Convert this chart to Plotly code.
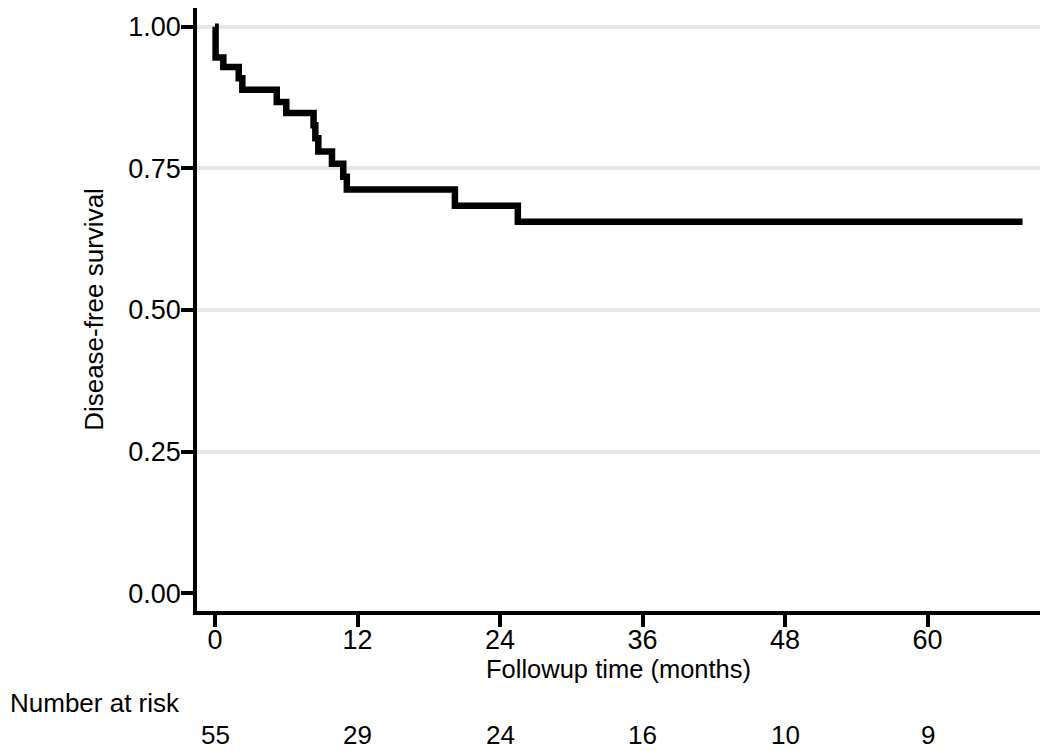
import plotly.graph_objects as go

# Kaplan-Meier step data
time_months = [0, 0.05, 0.7, 2.0, 2.3, 5.2, 6.0, 8.3, 8.45, 8.7, 9.85, 10.8, 11.1, 20.2, 25.5, 68.0]
survival = [1.0, 0.946, 0.929, 0.909, 0.889, 0.867, 0.848, 0.826, 0.803, 0.780, 0.758, 0.735, 0.7125, 0.684, 0.6556, 0.6556]

x_ticks = [0, 12, 24, 36, 48, 60]
y_ticks = [0.0, 0.25, 0.5, 0.75, 1.0]
y_tick_labels = ["0.00", "0.25", "0.50", "0.75", "1.00"]
at_risk_times = [0, 12, 24, 36, 48, 60]
at_risk_counts = [55, 29, 24, 16, 10, 9]

FONT = "Liberation Sans, Arial, Helvetica, sans-serif"
FS = 26

fig = go.Figure()
fig.add_trace(go.Scatter(
    x=time_months, y=survival, mode="lines",
    line=dict(shape="hv", color="black", width=6.5),
    showlegend=False, hoverinfo="skip",
))

# number-at-risk table
fig.add_annotation(text="Number at risk", xref="paper", yref="paper",
                   x=-0.2242, y=-0.153, xanchor="left", yanchor="middle",
                   showarrow=False, font=dict(family=FONT, size=FS, color="black"))
for t, n in zip(at_risk_times, at_risk_counts):
    fig.add_annotation(text=str(n), xref="x", yref="paper", x=t, y=-0.206,
                       xanchor="center", yanchor="middle", showarrow=False,
                       font=dict(family=FONT, size=FS, color="black"))

fig.update_layout(
    width=1042, height=743, autosize=False,
    margin=dict(l=189, r=10, t=0, b=140),
    paper_bgcolor="white", plot_bgcolor="white",
    font=dict(family=FONT, size=FS, color="black"),
    xaxis=dict(
        range=[-1.516, 69.47], tickmode="array", tickvals=x_ticks,
        ticks="outside", ticklen=12, tickwidth=3.5, tickcolor="black",
        showline=True, linecolor="black", linewidth=3.5,
        showgrid=False, zeroline=False, automargin=False,
        ticklabelstandoff=-10,
        title=dict(text="Followup time (months)", standoff=2,
                   font=dict(family=FONT, size=25.5, color="black")),
        tickfont=dict(family=FONT, size=27, color="black"),
    ),
    yaxis=dict(
        range=[-0.0316, 1.0332], tickmode="array", tickvals=y_ticks,
        ticktext=y_tick_labels,
        ticks="outside", ticklen=12, tickwidth=3.5, tickcolor="black",
        showline=True, linecolor="black", linewidth=3.5,
        showgrid=True, gridcolor="#e6e6e6", gridwidth=3.5,
        zeroline=True, zerolinecolor="white", zerolinewidth=3.5,
        automargin=False, ticklabelstandoff=-5,
        title=dict(text="Disease-free survival", standoff=18,
                   font=dict(family=FONT, size=FS, color="black")),
        tickfont=dict(family=FONT, size=27, color="black"),
    ),
)

fig.write_html("out.html")
